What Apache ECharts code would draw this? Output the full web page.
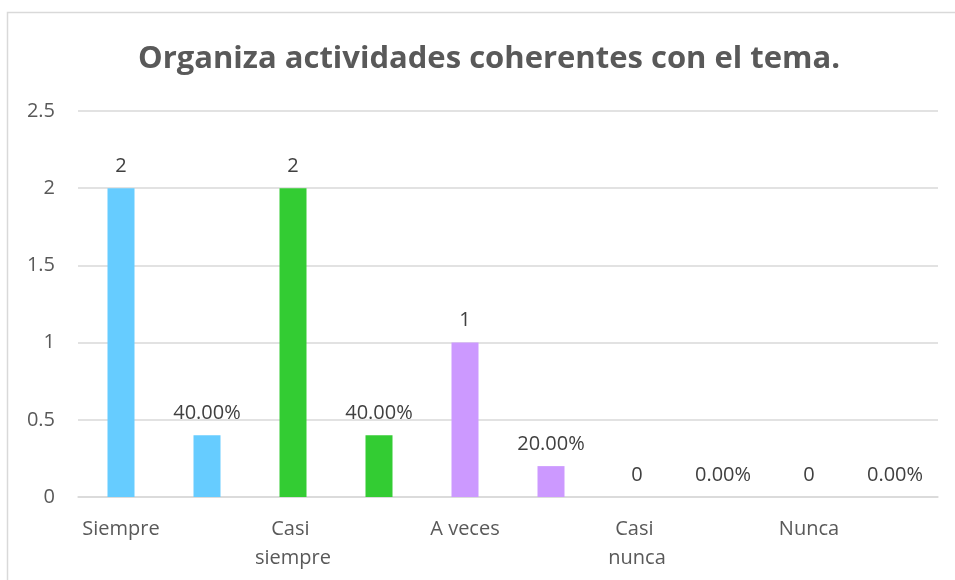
<!DOCTYPE html>
<html>
<head>
<meta charset="utf-8">
<script src="https://cdn.jsdelivr.net/npm/echarts@6/dist/echarts.min.js"></script>
<style>
  html, body { margin: 0; padding: 0; background: #fff; }
  #barChart { width: 955px; height: 580px; }
</style>
</head>
<body>
<div id="barChart"></div>
<script>
// datos
var categories = ["Siempre", "Casi siempre", "A veces", "Casi nunca", "Nunca"];
var counts = [2, 2, 1, 0, 0];
var percents = [40, 40, 20, 0, 0];
var colors = ["#66CCFF", "#33CC33", "#CC99FF", "#A5A5A5", "#FFC000"];
var yTicks = [0, 0.5, 1, 1.5, 2, 2.5];

// cada categoria ocupa dos columnas: cantidad y porcentaje
var xLabels = [];
var barData = [];
categories.forEach(function (c, i) {
  xLabels.push(c, "");
  barData.push({ value: counts[i], kind: "n", itemStyle: { color: colors[i] } });
  barData.push({ value: percents[i] / 100, kind: "p", itemStyle: { color: colors[i] } });
});

var font = "'Open Sans', sans-serif";
var option = {
  animation: false,
  title: {
    text: "Organiza actividades coherentes con el tema.",
    left: 133,
    top: 39,
    textStyle: { fontSize: 31, fontWeight: "bold", color: "#595959", fontFamily: font }
  },
  graphic: [{
    type: "rect",
    shape: { x: 7.5, y: 12.5, width: 960, height: 600 },
    style: { fill: "none", stroke: "#d9d9d9", lineWidth: 1.5 },
    silent: true
  }],
  grid: { left: 78, right: 17, top: 111, bottom: 83 },
  xAxis: {
    type: "category",
    data: xLabels,
    axisLine: { lineStyle: { color: "#d9d9d9", width: 1.5 } },
    axisTick: { show: false },
    axisLabel: {
      interval: 0,
      color: "#595959",
      fontSize: 20,
      fontFamily: font,
      margin: 18,
      lineHeight: 29,
      width: 84,
      overflow: "break"
    }
  },
  yAxis: {
    type: "value",
    min: yTicks[0],
    max: yTicks[yTicks.length - 1],
    interval: 0.5,
    axisLine: { show: false },
    axisTick: { show: false },
    splitLine: { lineStyle: { color: "#d9d9d9", width: 1.5 } },
    axisLabel: { color: "#595959", fontSize: 20, fontFamily: font, margin: 23 }
  },
  series: [{
    type: "bar",
    data: barData,
    barWidth: 27,
    label: {
      show: true,
      position: "top",
      distance: 12,
      color: "#404040",
      fontSize: 20,
      fontFamily: font,
      formatter: function (p) {
        return p.data.kind === "p" ? (p.value * 100).toFixed(2) + "%" : String(p.value);
      }
    }
  }]
};

var myChart = echarts.init(document.getElementById("barChart"));
myChart.setOption(option);
</script>
</body>
</html>
